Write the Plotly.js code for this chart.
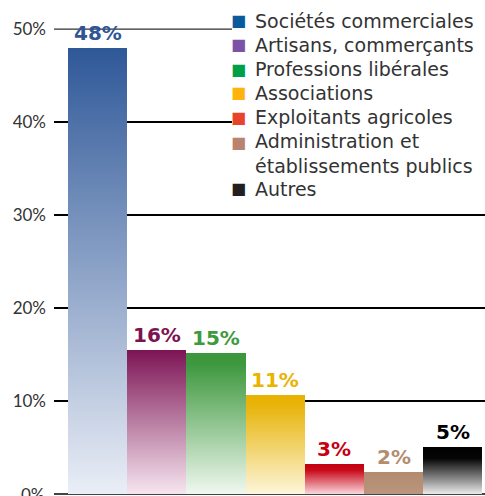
<!DOCTYPE html>
<html><head><meta charset="utf-8">
<script src="https://cdn.plot.ly/plotly-3.0.1.min.js"></script>
<style>html,body{margin:0;padding:0;background:#fff;}#chart{width:485px;height:496px;}</style>
</head><body><div id="chart"></div>
<script>
const categories = ["Sociétés commerciales","Artisans, commerçants","Professions libérales","Associations","Exploitants agricoles","Administration et établissements publics","Autres"];
const values = [47.9, 15.5, 15.2, 10.6, 3.2, 2.4, 5.1];
const labels = ["48%","16%","15%","11%","3%","2%","5%"];
const labelColors = ["#2F5597","#7B1450","#3E9A3E","#E8B400","#C8000F","#B48C70","#000000"];
const legendColors = ["#0A5A9C","#7B52A6","#00A04A","#FFB30F","#E8442A","#B98370","#231F20"];
const legendTexts = ["Sociétés commerciales","Artisans, commerçants","Professions libérales","Associations","Exploitants agricoles","Administration et<br>établissements publics","Autres"];
const yTickVals = [0,10,20,30,40,50];
const yTickText = ["0%","10%","20%","30%","40%","50%"];
const gradients = [
  [[0,"rgb(47,88,152)"],[1,"rgb(234,238,246)"]],
  [[0,"rgb(125,20,85)"],[1,"rgb(246,230,240)"]],
  [[0,"rgb(60,150,60)"],[0.08,"rgb(62,152,62)"],[1,"rgb(240,248,240)"]],
  [[0,"rgb(232,178,0)"],[0.1,"rgb(232,180,10)"],[1,"rgb(252,246,218)"]],
  [[0,"rgb(195,0,15)"],[0.2,"rgb(200,10,25)"],[1,"rgb(250,215,220)"]],
  [[0,"rgb(178,138,110)"],[1,"rgb(186,150,125)"]],
  [[0,"rgb(0,0,0)"],[0.25,"rgb(5,5,5)"],[1,"rgb(235,235,235)"]]
];

const H = 496, T = 1, B = 2, L = 54, W = 485;
const plotH = H - T - B, plotW = W - L;
const py = p => 1 - (p - T) / plotH;
const px = p => (p - L) / plotW;

const trace = {
  type: "bar",
  x: categories,
  y: values,
  marker: {color: labelColors, line: {width: 0}},
  hoverinfo: "none",
  showlegend: false
};

const annotations = [];
// bar value labels
categories.forEach((c, i) => annotations.push({
  x: c, y: values[i], xref: "x", yref: "y",
  text: "<b>" + labels[i] + "</b>", showarrow: false,
  xanchor: "center", yanchor: "bottom", yshift: 1,
  font: {family: "DejaVu Sans", size: 20, color: labelColors[i]}
}));
// legend
const legendY = [20.7, 45, 69, 93, 117, 153.5, 189];
const squareY = [20.7, 45, 69, 93, 117, 142, 189];
legendTexts.forEach((t, i) => {
  annotations.push({
    xref: "paper", yref: "paper", x: px(253), y: py(legendY[i]),
    xanchor: "left", yanchor: "middle", align: "left",
    text: t, showarrow: false,
    font: {family: "DejaVu Sans", size: 19, color: "#333"}
  });
  annotations.push({
    xref: "paper", yref: "paper", x: px(238), y: py(squareY[i]),
    xanchor: "center", yanchor: "middle",
    text: "■", showarrow: false,
    font: {family: "DejaVu Sans", size: 16, color: legendColors[i]}
  });
});
// zero tick label (clipped at bottom edge in the reference)
annotations.push({
  xref: "paper", yref: "y", x: 0, y: yTickVals[0], xanchor: "right", yanchor: "middle", xshift: -7,
  text: yTickText[0], showarrow: false, font: {family: "Lato", size: 17, color: "#333"}
});

const layout = {
  width: W, height: H,
  margin: {l: L, r: 0, t: T, b: B},
  paper_bgcolor: "#fff", plot_bgcolor: "#fff",
  bargap: 0,
  showlegend: false,
  xaxis: {range: [-0.736, 6.545], showticklabels: false, showgrid: false, zeroline: false, ticks: ""},
  yaxis: {
    range: [0, 53], tickvals: yTickVals, ticktext: ["", ...yTickText.slice(1)],
    showgrid: true, gridcolor: "#000", gridwidth: 1.3, zeroline: true, zerolinecolor: "#444", zerolinewidth: 2,
    layer: "above traces", ticks: "", ticklabelstandoff: 7,
    tickfont: {family: "Lato", size: 17, color: "#333"}
  },
  shapes: [
    {type: "rect", xref: "paper", yref: "paper", x0: px(232), x1: 1, y0: py(200), y1: 1.01, fillcolor: "#fff", line: {width: 0}, layer: "above"},
    {type: "line", xref: "paper", yref: "y", x0: 0, x1: px(232), y0: 50, y1: 50, line: {color: "#c8c8c8", width: 1.3}, layer: "above"}
  ],
  annotations: annotations
};

Plotly.newPlot("chart", [trace], layout, {staticPlot: true}).then(gd => {
  const svg = gd.querySelector(".main-svg");
  const ns = "http://www.w3.org/2000/svg";
  let defs = svg.querySelector("defs");
  if (!defs) { defs = document.createElementNS(ns, "defs"); svg.insertBefore(defs, svg.firstChild); }
  gradients.forEach((g, i) => {
    const lg = document.createElementNS(ns, "linearGradient");
    lg.setAttribute("id", "barg" + i);
    lg.setAttribute("x1", "0"); lg.setAttribute("y1", "0");
    lg.setAttribute("x2", "0"); lg.setAttribute("y2", "1");
    g.forEach(s => {
      const st = document.createElementNS(ns, "stop");
      st.setAttribute("offset", s[0]);
      st.setAttribute("stop-color", s[1]);
      lg.appendChild(st);
    });
    defs.appendChild(lg);
  });
  gd.querySelectorAll(".trace.bars .point path").forEach((p, i) => {
    p.style.fill = "url(#barg" + i + ")";
  });
});
</script></body></html>
